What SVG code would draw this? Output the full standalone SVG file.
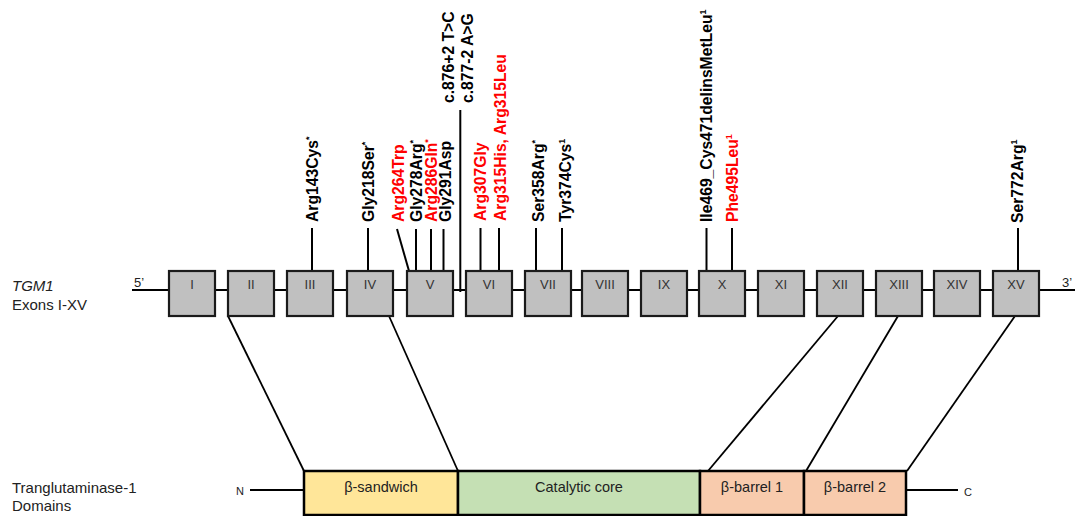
<svg xmlns="http://www.w3.org/2000/svg" width="1079" height="516" viewBox="0 0 1079 516">
<style>
text{font-family:"Liberation Sans",Arial,sans-serif}
.exon rect{fill:#c0c0c0;stroke:#1a1a1a;stroke-width:2.2}
.exon text{font-size:13px;fill:#333;text-anchor:middle}
.mut{font-size:15.7px;font-weight:bold;fill:#000}
.red{fill:#ff0000}
.sup{font-size:9px}
.ln{stroke:#000;stroke-width:2;fill:none}
.conn{stroke:#000;stroke-width:1.8;fill:none}
.lbl{font-size:15px;fill:#222}
.dom rect{stroke:#000;stroke-width:2.5}
.dom text{font-size:14.5px;fill:#222;text-anchor:middle}
</style>
<rect width="1079" height="516" fill="#fff"/>
<g id="labels">
<text class="lbl" x="12" y="291" font-style="italic">TGM1</text>
<text class="lbl" x="12" y="310">Exons I-XV</text>
<text class="lbl" x="12" y="493">Tranglutaminase-1</text>
<text class="lbl" x="12" y="511">Domains</text>
<text x="134" y="287" font-size="13" fill="#222">5’</text>
<text x="1062" y="287" font-size="13" fill="#222">3’</text>
<text x="236" y="495" font-size="11" fill="#222">N</text>
<text x="964" y="496" font-size="11" fill="#222">C</text>
</g>
<g id="connectors">
<line class="ln" x1="132" y1="290" x2="1075" y2="290"/>
<line class="ln" x1="250" y1="490" x2="305" y2="490"/>
<line class="ln" x1="906" y1="490" x2="958" y2="490"/>
<line class="conn" x1="228" y1="316" x2="304" y2="471"/>
<line class="conn" x1="389" y1="316" x2="458" y2="471"/>
<line class="conn" x1="838" y1="316" x2="708" y2="471"/>
<line class="conn" x1="898" y1="316" x2="806" y2="471"/>
<line class="conn" x1="1015" y1="316" x2="907" y2="471"/>
<line class="ln" x1="312" y1="228" x2="312" y2="271"/>
<line class="ln" x1="368" y1="228" x2="368" y2="271"/>
<line class="ln" x1="397" y1="229" x2="409" y2="271"/>
<line class="ln" x1="416" y1="229" x2="416" y2="271"/>
<line class="ln" x1="431" y1="229" x2="431" y2="271"/>
<line class="ln" x1="443.5" y1="229" x2="443.5" y2="271"/>
<line class="ln" x1="460.3" y1="110" x2="460.3" y2="292"/>
<line class="ln" x1="480.5" y1="228" x2="480.5" y2="271"/>
<line class="ln" x1="499" y1="228" x2="499" y2="271"/>
<line class="ln" x1="536" y1="228" x2="536" y2="271"/>
<line class="ln" x1="562" y1="228" x2="562" y2="271"/>
<line class="ln" x1="706.5" y1="228" x2="706.5" y2="271"/>
<line class="ln" x1="732" y1="228" x2="732" y2="271"/>
<line class="ln" x1="1018" y1="228" x2="1018" y2="271"/>
</g>
<g id="exons" class="exon">
<g id="exon-I"><rect x="169" y="271" width="46" height="45"/><text x="192" y="289">I</text></g>
<g id="exon-II"><rect x="228" y="271" width="46" height="45"/><text x="251" y="289">II</text></g>
<g id="exon-III"><rect x="287" y="271" width="46" height="45"/><text x="310" y="289">III</text></g>
<g id="exon-IV"><rect x="347" y="271" width="46" height="45"/><text x="370" y="289">IV</text></g>
<g id="exon-V"><rect x="407" y="271" width="46" height="45"/><text x="430" y="289">V</text></g>
<g id="exon-VI"><rect x="466" y="271" width="46" height="45"/><text x="489" y="289">VI</text></g>
<g id="exon-VII"><rect x="525" y="271" width="46" height="45"/><text x="548" y="289">VII</text></g>
<g id="exon-VIII"><rect x="582" y="271" width="46" height="45"/><text x="605" y="289">VIII</text></g>
<g id="exon-IX"><rect x="641" y="271" width="46" height="45"/><text x="664" y="289">IX</text></g>
<g id="exon-X"><rect x="699" y="271" width="46" height="45"/><text x="722" y="289">X</text></g>
<g id="exon-XI"><rect x="758" y="271" width="46" height="45"/><text x="781" y="289">XI</text></g>
<g id="exon-XII"><rect x="817" y="271" width="46" height="45"/><text x="840" y="289">XII</text></g>
<g id="exon-XIII"><rect x="876" y="271" width="46" height="45"/><text x="899" y="289">XIII</text></g>
<g id="exon-XIV"><rect x="934" y="271" width="46" height="45"/><text x="957" y="289">XIV</text></g>
<g id="exon-XV"><rect x="993" y="271" width="46" height="45"/><text x="1016" y="289">XV</text></g>
</g>
<g id="mutations">
<text class="mut" transform="translate(317.5,222) rotate(-90)">Arg143Cys<tspan class="sup" dy="-6">*</tspan></text>
<text class="mut" transform="translate(373.5,222) rotate(-90)">Gly218Ser<tspan class="sup" dy="-6">*</tspan></text>
<text class="mut red" transform="translate(403.5,222) rotate(-90)">Arg264Trp</text>
<text class="mut" transform="translate(422,222) rotate(-90)">Gly278Arg<tspan class="sup" dy="-6">*</tspan></text>
<text class="mut red" transform="translate(437,222) rotate(-90)">Arg286Gln<tspan class="sup" dy="-6">*</tspan></text>
<text class="mut" transform="translate(450.5,222) rotate(-90)">Gly291Asp</text>
<text class="mut" transform="translate(453.5,103) rotate(-90)">c.876+2 T&gt;C</text>
<text class="mut" transform="translate(472.5,103) rotate(-90)">c.877-2 A&gt;G</text>
<text class="mut red" transform="translate(486,221) rotate(-90)">Arg307Gly</text>
<text class="mut red" transform="translate(505.5,221) rotate(-90)">Arg315His, Arg315Leu</text>
<text class="mut" transform="translate(543.5,222) rotate(-90)">Ser358Arg<tspan class="sup" dy="-6">*</tspan></text>
<text class="mut" transform="translate(570.5,222) rotate(-90)">Tyr374Cys<tspan class="sup" dy="-6">1</tspan></text>
<text class="mut" transform="translate(712,222) rotate(-90)">Ile469_Cys471delinsMetLeu<tspan class="sup" dy="-6">1</tspan></text>
<text class="mut red" transform="translate(737.5,222) rotate(-90)">Phe495Leu<tspan class="sup" dy="-6">1</tspan></text>
<text class="mut" transform="translate(1023,223) rotate(-90)">Ser772Arg<tspan class="sup" dy="-6">1</tspan></text>
</g>
<g id="domains" class="dom">
<g id="dom-sandwich"><rect x="304" y="471" width="154" height="44" fill="#ffe699"/><text x="381" y="492">β-sandwich</text></g>
<g id="dom-core"><rect x="458" y="471" width="242" height="44" fill="#c5e0b4"/><text x="579" y="492">Catalytic core</text></g>
<g id="dom-barrel1"><rect x="700" y="471" width="104" height="44" fill="#f8cbad"/><text x="752" y="492">β-barrel 1</text></g>
<g id="dom-barrel2"><rect x="804" y="471" width="102" height="44" fill="#f8cbad"/><text x="855" y="492">β-barrel 2</text></g>
</g>
</svg>
